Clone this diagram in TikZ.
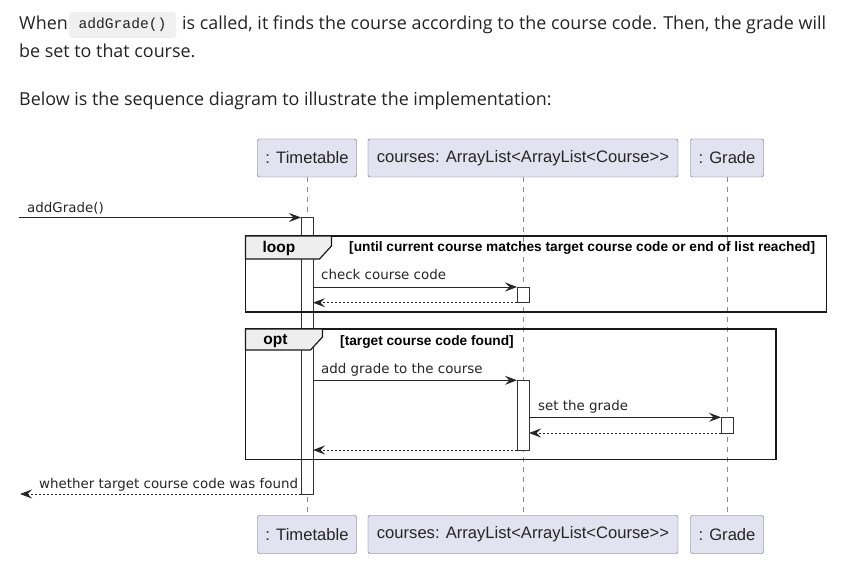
\documentclass[tikz,border=0pt]{standalone}
\usepackage{fontspec}
\setmainfont{Open Sans}
\newfontfamily\diagfont{Liberation Sans}
\newfontfamily\msgfont{DejaVu Sans}
\newfontfamily\codefont{Liberation Mono}
\usetikzlibrary{arrows.meta,positioning}
\definecolor{partfill}{HTML}{E2E2F0}
\definecolor{partline}{HTML}{5E5E6E}
\definecolor{tabfill}{HTML}{EEEEEE}
\definecolor{codebg}{HTML}{F0F0F0}
\definecolor{bodytext}{HTML}{242424}
\definecolor{lifegray}{HTML}{8C8C8C}
\begin{document}
\begin{tikzpicture}[x=1pt,y=-1pt,
  para/.style={inner sep=0pt, anchor=base west, text=bodytext, font=\fontsize{17.9}{20}\selectfont},
  code/.style={fill=codebg, rounded corners=3pt, inner sep=0pt, minimum width=107pt, minimum height=26pt, text=bodytext, font=\codefont\fontsize{14.6}{16}\selectfont},
  part/.style={draw=partline, fill=partfill, rounded corners=2pt, minimum height=38pt, inner sep=0pt, outer sep=0pt, text=black!85, font=\diagfont\fontsize{16.6}{18}\selectfont},
  life/.style={draw=lifegray, dash pattern=on 5pt off 5pt, line width=0.8pt},
  act/.style={draw=black!80, fill=white, minimum width=12pt, inner sep=0pt, outer sep=0pt, line width=0.9pt},
  msg/.style={-{Stealth[length=12pt,width=9pt,inset=4.5pt]}, line width=0.9pt, draw=black!85},
  ret/.style={msg, dash pattern=on 2pt off 2pt},
  lbl/.style={inner sep=0pt, anchor=base west, text=black!85, font=\msgfont\fontsize{13.4}{15}\selectfont},
  frame/.style={draw=black!90, line width=1.8pt, inner sep=0pt, outer sep=0pt},
  tab/.style={fill=tabfill, draw=black!90, line width=1.2pt},
  opname/.style={inner sep=0pt, font=\diagfont\bfseries\fontsize{15.5}{17}\selectfont},
  guard/.style={inner sep=0pt, anchor=west, font=\diagfont\bfseries\fontsize{13.7}{15}\selectfont}
]
\useasboundingbox[fill=white] (0,0) rectangle (850,569);

% Text above the diagram
\node[para] (txtWhen) at (19,30) {When};
\node[code] (txtCode) at (122.5,25) {addGrade()};
\node[para] (txtRest) at (182,30) {is called, it finds the course according to the course code. Then, the grade will};
\node[para] (txtLine2) at (19,58) {be set to that course.};
\node[para] (txtLine3) at (19,106) {Below is the sequence diagram to illustrate the implementation:};

% Participants, top and bottom
\foreach \yy/\sfx in {158/Top,534.5/Bot}{
  \node[part, minimum width=99pt] (time\sfx) at (307,\yy) {: Timetable};
  \node[part, minimum width=310pt] (courses\sfx) at (523,\yy) {courses: ArrayList<ArrayList<Course>{}>};
  \node[part, minimum width=73pt] (grade\sfx) at (727,\yy) {: Grade};
}

% Lifelines
\foreach \p in {time,courses,grade}
\draw[life] (\p Top.south) -- (\p Bot.north);

% Activations
\node[act, minimum height=276.5pt] (actTime) at (307,355.75) {};
\node[act, minimum height=15.7pt] (actCheck) at (523,294.85) {};
\node[act, minimum height=69.7pt] (actAdd) at (523,415.15) {};
\node[act, minimum height=15.7pt] (actSet) at (727,425.15) {};

% Combined fragments
\node[frame, minimum width=581pt, minimum height=76pt] (loopFrame) at (536,274) {};
\draw[tab] (loopFrame.north west) -- ++(86,0) -- ++(0,10) -- ++(-12,13) -- ++(-74,0) -- cycle;
\node[opname] (loopName) at (279,248) {loop};
\node[guard] (loopGuard) at (349,248) {[until current course matches target course code or end of list reached]};

\node[frame, minimum width=530.5pt, minimum height=130.5pt] (optFrame) at (510.75,394.25) {};
\draw[tab] (optFrame.north west) -- ++(77,0) -- ++(0,8) -- ++(-12,13) -- ++(-65,0) -- cycle;
\node[opname] (optName) at (275.5,341.5) {opt};
\node[guard] (optGuard) at (340,341.5) {[target course code found]};

% Messages
\coordinate (callIn) at (19,217.5);
\coordinate (callOut) at (20,494);
\draw[msg] (callIn) -- (actTime.north west);
\node[lbl] (lblCall) at (27,212) {addGrade()};

\draw[msg] (actTime.east |- actCheck.north) -- (actCheck.north west);
\node[lbl] (lblCheck) at (321,279.5) {check course code};
\draw[ret] (actCheck.south west) -- (actTime.east |- actCheck.south);

\draw[msg] (actTime.east |- actAdd.north) -- (actAdd.north west);
\node[lbl] (lblAdd) at (321,373) {add grade to the course};

\draw[msg] (actAdd.east |- actSet.north) -- (actSet.north west);
\node[lbl] (lblSet) at (538,410.5) {set the grade};
\draw[ret] (actSet.south west) -- (actAdd.east |- actSet.south);

\draw[ret] (actAdd.south west) -- (actTime.east |- actAdd.south);

\draw[ret] (actTime.south west) -- (callOut);
\node[lbl] (lblFound) at (39,488) {whether target course code was found};
\end{tikzpicture}
\end{document}
